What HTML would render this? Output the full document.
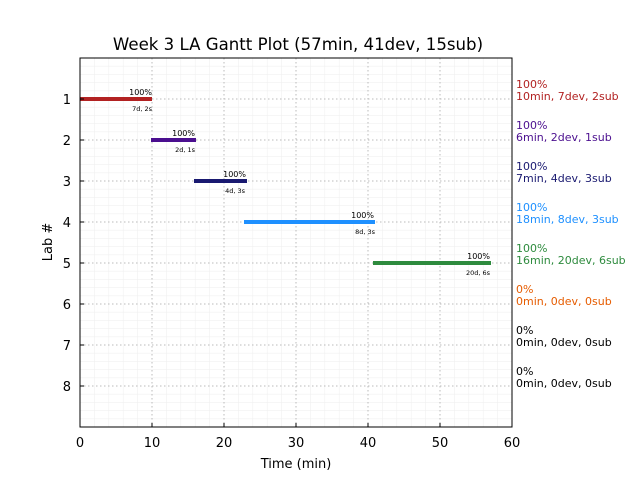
<!DOCTYPE html>
<html><head><style>body{margin:0;background:#fff}</style></head><body>
<svg width="640" height="480" xmlns="http://www.w3.org/2000/svg" font-family="DejaVu Sans, Liberation Sans, sans-serif">
<rect width="640" height="480" fill="#fff"/>
<g stroke="#f0f0f0" stroke-width="0.6">
<line x1="94.4" y1="58" x2="94.4" y2="427"/><line x1="108.8" y1="58" x2="108.8" y2="427"/><line x1="123.2" y1="58" x2="123.2" y2="427"/><line x1="137.6" y1="58" x2="137.6" y2="427"/>
<line x1="166.4" y1="58" x2="166.4" y2="427"/><line x1="180.8" y1="58" x2="180.8" y2="427"/><line x1="195.2" y1="58" x2="195.2" y2="427"/><line x1="209.6" y1="58" x2="209.6" y2="427"/>
<line x1="238.4" y1="58" x2="238.4" y2="427"/><line x1="252.8" y1="58" x2="252.8" y2="427"/><line x1="267.2" y1="58" x2="267.2" y2="427"/><line x1="281.6" y1="58" x2="281.6" y2="427"/>
<line x1="310.4" y1="58" x2="310.4" y2="427"/><line x1="324.8" y1="58" x2="324.8" y2="427"/><line x1="339.2" y1="58" x2="339.2" y2="427"/><line x1="353.6" y1="58" x2="353.6" y2="427"/>
<line x1="382.4" y1="58" x2="382.4" y2="427"/><line x1="396.8" y1="58" x2="396.8" y2="427"/><line x1="411.2" y1="58" x2="411.2" y2="427"/><line x1="425.6" y1="58" x2="425.6" y2="427"/>
<line x1="454.4" y1="58" x2="454.4" y2="427"/><line x1="468.8" y1="58" x2="468.8" y2="427"/><line x1="483.2" y1="58" x2="483.2" y2="427"/><line x1="497.6" y1="58" x2="497.6" y2="427"/>
</g>
<g stroke="#f0f0f0" stroke-width="0.6">
<line x1="80" y1="66.2" x2="512" y2="66.2"/><line x1="80" y1="74.4" x2="512" y2="74.4"/><line x1="80" y1="82.6" x2="512" y2="82.6"/><line x1="80" y1="90.8" x2="512" y2="90.8"/>
<line x1="80" y1="107.2" x2="512" y2="107.2"/><line x1="80" y1="115.4" x2="512" y2="115.4"/><line x1="80" y1="123.6" x2="512" y2="123.6"/><line x1="80" y1="131.8" x2="512" y2="131.8"/>
<line x1="80" y1="148.2" x2="512" y2="148.2"/><line x1="80" y1="156.4" x2="512" y2="156.4"/><line x1="80" y1="164.6" x2="512" y2="164.6"/><line x1="80" y1="172.8" x2="512" y2="172.8"/>
<line x1="80" y1="189.2" x2="512" y2="189.2"/><line x1="80" y1="197.4" x2="512" y2="197.4"/><line x1="80" y1="205.6" x2="512" y2="205.6"/><line x1="80" y1="213.8" x2="512" y2="213.8"/>
<line x1="80" y1="230.2" x2="512" y2="230.2"/><line x1="80" y1="238.4" x2="512" y2="238.4"/><line x1="80" y1="246.6" x2="512" y2="246.6"/><line x1="80" y1="254.8" x2="512" y2="254.8"/>
<line x1="80" y1="271.2" x2="512" y2="271.2"/><line x1="80" y1="279.4" x2="512" y2="279.4"/><line x1="80" y1="287.6" x2="512" y2="287.6"/><line x1="80" y1="295.8" x2="512" y2="295.8"/>
<line x1="80" y1="312.2" x2="512" y2="312.2"/><line x1="80" y1="320.4" x2="512" y2="320.4"/><line x1="80" y1="328.6" x2="512" y2="328.6"/><line x1="80" y1="336.8" x2="512" y2="336.8"/>
<line x1="80" y1="353.2" x2="512" y2="353.2"/><line x1="80" y1="361.4" x2="512" y2="361.4"/><line x1="80" y1="369.6" x2="512" y2="369.6"/><line x1="80" y1="377.8" x2="512" y2="377.8"/>
<line x1="80" y1="394.2" x2="512" y2="394.2"/><line x1="80" y1="402.4" x2="512" y2="402.4"/><line x1="80" y1="410.6" x2="512" y2="410.6"/><line x1="80" y1="418.8" x2="512" y2="418.8"/>
</g>
<g stroke="#bbb" stroke-width="1" stroke-dasharray="1.5,2.5">
<line x1="152" y1="58" x2="152" y2="427"/><line x1="224" y1="58" x2="224" y2="427"/><line x1="296" y1="58" x2="296" y2="427"/><line x1="368" y1="58" x2="368" y2="427"/><line x1="440" y1="58" x2="440" y2="427"/>
<line x1="80" y1="99" x2="512" y2="99"/><line x1="80" y1="140" x2="512" y2="140"/><line x1="80" y1="181" x2="512" y2="181"/><line x1="80" y1="222" x2="512" y2="222"/><line x1="80" y1="263" x2="512" y2="263"/><line x1="80" y1="304" x2="512" y2="304"/><line x1="80" y1="345" x2="512" y2="345"/><line x1="80" y1="386" x2="512" y2="386"/>
</g>
<g stroke-width="4">
<line x1="80" y1="99" x2="152" y2="99" stroke="#b22222"/>
<line x1="151" y1="140" x2="196" y2="140" stroke="#4b0f8f"/>
<line x1="194" y1="181" x2="247" y2="181" stroke="#191970"/>
<line x1="244" y1="222" x2="375" y2="222" stroke="#1e90ff"/>
<line x1="373" y1="263" x2="491" y2="263" stroke="#2e8b3e"/>
</g>
<g font-size="8" text-anchor="end" fill="#000">
<text x="152" y="95">100%</text><text x="195" y="136">100%</text><text x="246" y="177">100%</text><text x="374" y="218">100%</text><text x="490" y="259">100%</text>
</g>
<g font-size="6.5" text-anchor="end" fill="#000">
<text x="152" y="111">7d, 2s</text><text x="195" y="152">2d, 1s</text><text x="245" y="193">4d, 3s</text><text x="375" y="234">8d, 3s</text><text x="490" y="275">20d, 6s</text>
</g>
<rect x="80" y="58" width="432" height="369" fill="none" stroke="#000" stroke-width="1"/>
<g stroke="#000">
<line x1="152" y1="427" x2="152" y2="423"/><line x1="224" y1="427" x2="224" y2="423"/><line x1="296" y1="427" x2="296" y2="423"/><line x1="368" y1="427" x2="368" y2="423"/><line x1="440" y1="427" x2="440" y2="423"/>
<line x1="80" y1="99" x2="84" y2="99"/><line x1="80" y1="140" x2="84" y2="140"/><line x1="80" y1="181" x2="84" y2="181"/><line x1="80" y1="222" x2="84" y2="222"/><line x1="80" y1="263" x2="84" y2="263"/><line x1="80" y1="304" x2="84" y2="304"/><line x1="80" y1="345" x2="84" y2="345"/><line x1="80" y1="386" x2="84" y2="386"/>
</g>
<g font-size="13" text-anchor="middle" fill="#000">
<text x="80" y="447">0</text><text x="152" y="447">10</text><text x="224" y="447">20</text><text x="296" y="447">30</text><text x="368" y="447">40</text><text x="440" y="447">50</text><text x="512" y="447">60</text>
</g>
<g font-size="13" text-anchor="end" fill="#000">
<text x="71" y="104">1</text><text x="71" y="145">2</text><text x="71" y="186">3</text><text x="71" y="227">4</text><text x="71" y="268">5</text><text x="71" y="309">6</text><text x="71" y="350">7</text><text x="71" y="391">8</text>
</g>
<text x="296" y="468" font-size="13" text-anchor="middle">Time (min)</text>
<text transform="translate(52,242) rotate(-90)" font-size="13" text-anchor="middle">Lab #</text>
<text x="298" y="50" font-size="16.6" text-anchor="middle">Week 3 LA Gantt Plot (57min, 41dev, 15sub)</text>
<g font-size="11">
<text x="516" y="88" fill="#b22222">100%</text><text x="516" y="100" fill="#b22222">10min, 7dev, 2sub</text>
<text x="516" y="129" fill="#4b0f8f">100%</text><text x="516" y="141" fill="#4b0f8f">6min, 2dev, 1sub</text>
<text x="516" y="170" fill="#191970">100%</text><text x="516" y="182" fill="#191970">7min, 4dev, 3sub</text>
<text x="516" y="211" fill="#1e90ff">100%</text><text x="516" y="223" fill="#1e90ff">18min, 8dev, 3sub</text>
<text x="516" y="252" fill="#2e8b3e">100%</text><text x="516" y="264" fill="#2e8b3e">16min, 20dev, 6sub</text>
<text x="516" y="293" fill="#e65c00">0%</text><text x="516" y="305" fill="#e65c00">0min, 0dev, 0sub</text>
<text x="516" y="334" fill="#000">0%</text><text x="516" y="346" fill="#000">0min, 0dev, 0sub</text>
<text x="516" y="375" fill="#000">0%</text><text x="516" y="387" fill="#000">0min, 0dev, 0sub</text>
</g>
</svg>
</body></html>
